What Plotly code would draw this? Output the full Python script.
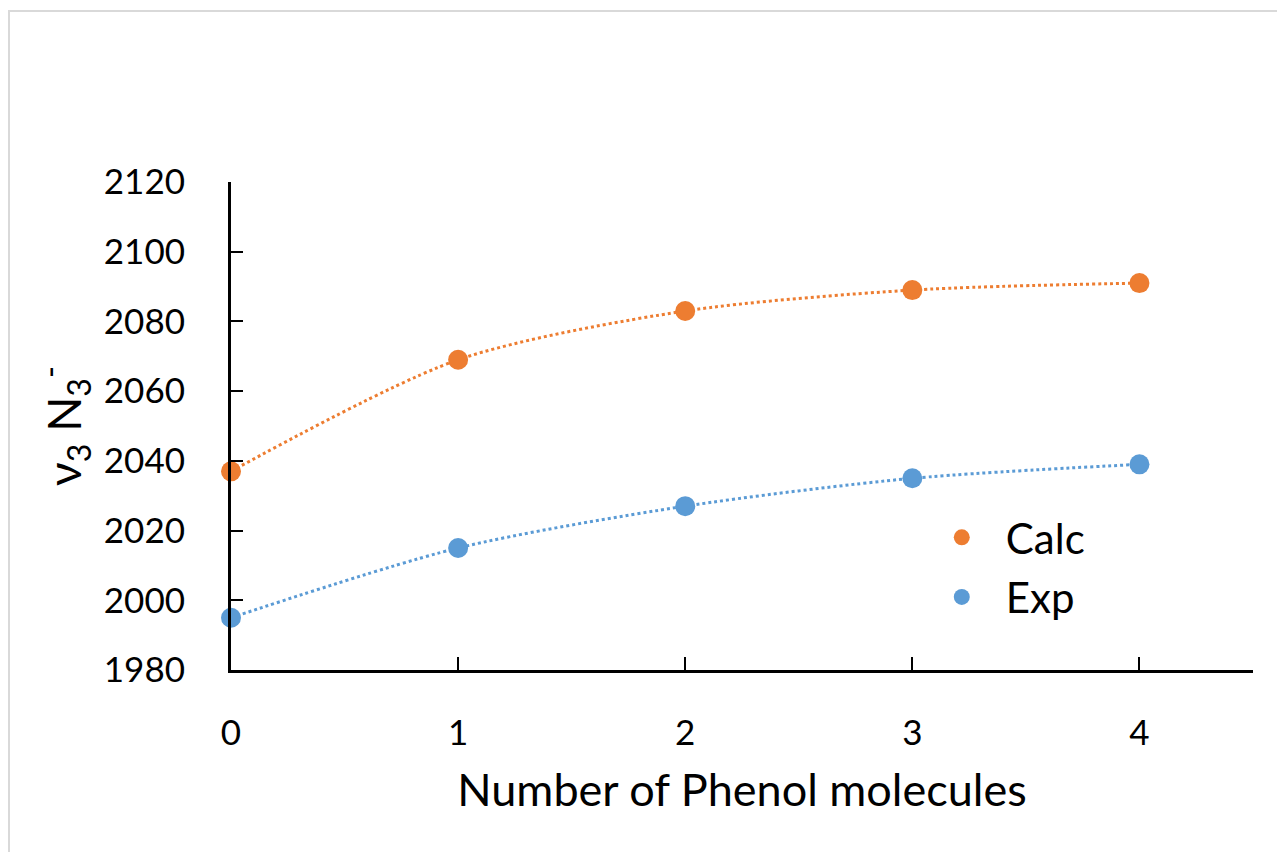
import plotly.graph_objects as go

phenol_count = [0, 1, 2, 3, 4]
calc_freq = [2037, 2069, 2083, 2089, 2091]
exp_freq = [1995, 2015, 2027, 2035, 2039]

y_ticks = [1980, 2000, 2020, 2040, 2060, 2080, 2100, 2120]
x_ticks = [0, 1, 2, 3, 4]

ORANGE = "#ED7D31"
BLUE = "#5B9BD5"
FONT = "Lato, Calibri, Arial, sans-serif"

# page body adds 8px offset, so figure is drawn 8px smaller
W, H = 1277, 844
ML, MT, MR, MB = 223, 174, 32, 182
PW = W - ML - MR
PH = H - MT - MB

fig = go.Figure()

# dotted trend curves
for ys, col in [(calc_freq, ORANGE), (exp_freq, BLUE)]:
    fig.add_trace(go.Scatter(
        x=phenol_count, y=ys, mode="lines",
        line=dict(color=col, width=3, dash="dot", shape="spline", smoothing=0.8),
        showlegend=False, hoverinfo="skip", cliponaxis=False,
    ))

fig.add_trace(go.Scatter(
    x=phenol_count, y=calc_freq, mode="markers", name="Calc",
    marker=dict(color=ORANGE, size=20), cliponaxis=False,
    legendgroup="calc",
))
fig.add_trace(go.Scatter(
    x=phenol_count, y=exp_freq, mode="markers", name="Exp",
    marker=dict(color=BLUE, size=20), cliponaxis=False,
    legendgroup="exp",
))

fig.update_layout(
    width=W, height=H,
    paper_bgcolor="white", plot_bgcolor="white",
    margin=dict(l=ML, r=MR, t=MT, b=MB),
    font=dict(family=FONT, size=35, color="black"),
    legend=dict(
        x=0.672, y=0.21, xanchor="left", yanchor="middle",
        bgcolor="rgba(0,0,0,0)", font=dict(size=42),
        traceorder="grouped", tracegroupgap=2, itemwidth=78,
    ),
    shapes=[
        dict(type="line", xref="paper", yref="paper", x0=-ML / PW, x1=1.2,
             y0=1 + (MT - 3) / PH, y1=1 + (MT - 3) / PH,
             line=dict(color="#D9D9D9", width=2)),
        dict(type="line", xref="paper", yref="paper", x0=-(ML - 1) / PW, x1=-(ML - 1) / PW,
             y0=1 + (MT - 3) / PH, y1=-0.5,
             line=dict(color="#D9D9D9", width=2)),
    ],
)

fig.update_xaxes(
    range=[0, 4.5], tickvals=x_ticks, ticks="inside", ticklen=13, tickwidth=2,
    tickcolor="black", showline=True, linecolor="black", linewidth=3,
    showgrid=False, zeroline=False, ticklabelstandoff=30,
    tickfont=dict(size=35),
    title=dict(text="Number of Phenol molecules", font=dict(size=45), standoff=24),
)
fig.update_yaxes(
    range=[1980, 2120], tickvals=y_ticks, ticks="inside", ticklen=12, tickwidth=2,
    tickcolor="black", showline=True, linecolor="black", linewidth=3,
    showgrid=False, zeroline=False, ticklabelstandoff=36,
    tickfont=dict(size=35),
    title=dict(text="ν<sub>3</sub> N<sub>3</sub><sup>-</sup>", font=dict(size=46), standoff=8),
)

fig.write_html("out.html")
